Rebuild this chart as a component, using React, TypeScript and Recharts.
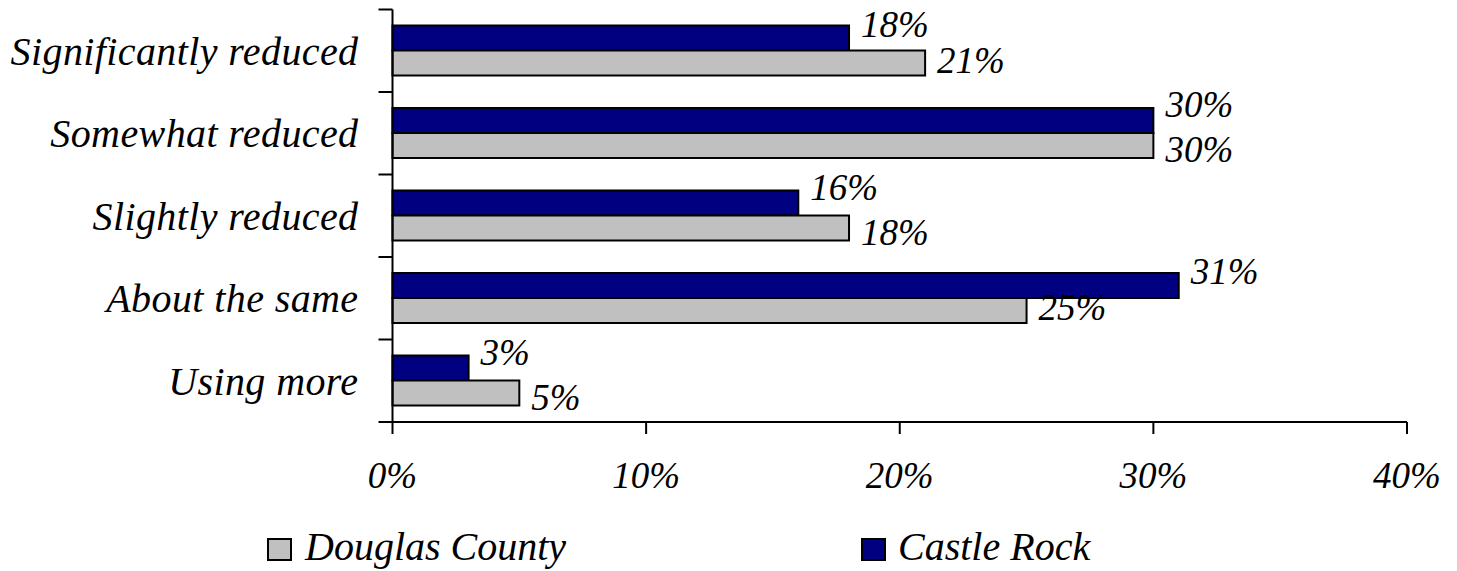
import { Bar, BarChart, LabelList, Legend, XAxis, YAxis } from 'recharts';

const categories = [
  'Significantly reduced',
  'Somewhat reduced',
  'Slightly reduced',
  'About the same',
  'Using more',
];
const douglasCounty = [21, 30, 18, 25, 5];
const castleRock = [18, 30, 16, 31, 3];
const xTicks = [0, 10, 20, 30, 40];

const FONT = '"Liberation Serif", "Times New Roman", serif';
const NAVY = '#000080';
const SILVER = '#C0C0C0';

const data = categories.map((name, i) => ({
  name,
  douglas: douglasCounty[i],
  castle: castleRock[i],
}));

// category ticks sit on the band edges, labels in the middle
function CategoryTick(props: any) {
  const { x, y, payload, index, visibleTicksCount } = props;
  const half = payload?.offset ?? 41.25;
  const axisX = x + 34;
  return (
    <g>
      <line x1={axisX - 14} x2={axisX} y1={y - half} y2={y - half} stroke="#000" strokeWidth={2} />
      {index === visibleTicksCount - 1 && (
        <line x1={axisX - 14} x2={axisX} y1={y + half} y2={y + half} stroke="#000" strokeWidth={2} />
      )}
      <text
        x={x}
        y={y}
        dy="0.355em"
        textAnchor="end"
        fontFamily={FONT}
        fontStyle="italic"
        fontSize={40}
        letterSpacing={0.4}
        fill="#000"
      >
        {payload.value}
      </text>
    </g>
  );
}

// labels of the two series get pushed apart when they would collide
function valueLabel(dy: number, pushed: number) {
  return (props: any) => {
    const { x, y, width, height, value, index } = props;
    const close = Math.abs(castleRock[index] - douglasCounty[index]) < 3;
    return (
      <text
        x={x + width + 12}
        y={y + height / 2}
        dy={close ? pushed : dy}
        textAnchor="start"
        dominantBaseline="central"
        fontFamily={FONT}
        fontStyle="italic"
        fontSize={37}
        fill="#000"
      >
        {`${value}%`}
      </text>
    );
  };
}

function LegendBox() {
  return (
    <svg width={1457} height={46} style={{ display: 'block' }}>
      <rect x={268} y={14} width={23} height={21} fill={SILVER} stroke="#000" strokeWidth={2} />
      <text x={305} y={35} fontFamily={FONT} fontStyle="italic" fontSize={40} fill="#000">
        Douglas County
      </text>
      <rect x={862} y={14} width={23} height={21} fill={NAVY} stroke="#000" strokeWidth={2} />
      <text x={898} y={35} fontFamily={FONT} fontStyle="italic" fontSize={40} fill="#000">
        Castle Rock
      </text>
    </svg>
  );
}

export default function App() {
  return (
    <div style={{ position: 'absolute', left: 0, top: 0, background: '#fff' }}>
      <BarChart
        width={1457}
        height={571}
        data={data}
        layout="vertical"
        margin={{ top: 9.5, right: 50, left: 0, bottom: 0 }}
        barGap={0}
        barCategoryGap={16}
      >
        <XAxis
          type="number"
          domain={[0, 40]}
          ticks={xTicks}
          tickFormatter={(v) => `${v}%`}
          height={103}
          tickSize={12}
          tickMargin={28}
          axisLine={{ stroke: '#000', strokeWidth: 2 }}
          tickLine={{ stroke: '#000', strokeWidth: 2 }}
          tick={{ fill: '#000', fontFamily: FONT, fontStyle: 'italic', fontSize: 37 }}
        />
        <YAxis
          type="category"
          dataKey="name"
          width={392.5}
          tickSize={14}
          tickMargin={20}
          tickLine={false}
          axisLine={{ stroke: '#000', strokeWidth: 2 }}
          tick={<CategoryTick />}
          interval={0}
        />
        <Legend verticalAlign="bottom" height={46} content={() => <LegendBox />} />
        <Bar dataKey="castle" fill={NAVY} stroke="#000" strokeWidth={2} isAnimationActive={false}>
          <LabelList dataKey="castle" content={valueLabel(-14, -16)} />
        </Bar>
        <Bar dataKey="douglas" fill={SILVER} stroke="#000" strokeWidth={2} isAnimationActive={false}>
          <LabelList dataKey="douglas" content={valueLabel(-3, 4)} />
        </Bar>
      </BarChart>
    </div>
  );
}
